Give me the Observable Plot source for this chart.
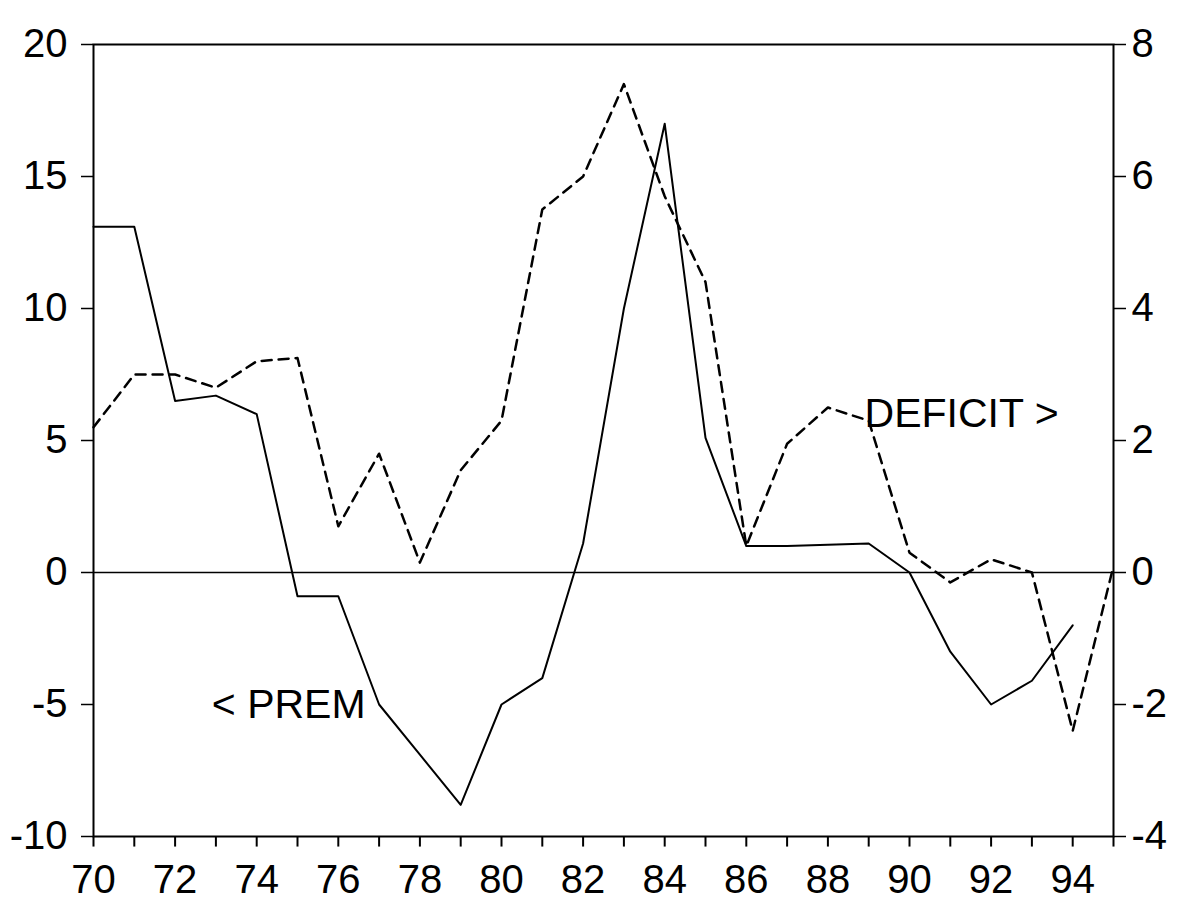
<!DOCTYPE html>
<html>
<head>
<meta charset="utf-8">
<script src="https://cdn.jsdelivr.net/npm/d3@7"></script>
<script src="https://cdn.jsdelivr.net/npm/@observablehq/plot@0.6"></script>
<style>
  html, body { margin: 0; padding: 0; background: #fff; }
  #chart { width: 1177px; height: 906px; }
</style>
</head>
<body>
<div id="chart"></div>
<script>
// Years (two-digit), 1970–1995
const years = [70,71,72,73,74,75,76,77,78,79,80,81,82,83,84,85,86,87,88,89,90,91,92,93,94,95];
// PREM (left axis), available 70–94
const premYears = [70,71,72,73,74,75,76,77,78,79,80,81,82,83,84,85,86,87,88,89,90,91,92,93,94];
const premValues = [13.1,13.1,6.5,6.7,6.0,-0.9,-0.9,-5.0,-6.9,-8.8,-5.0,-4.0,1.1,10.0,17.0,5.1,1.0,1.0,1.05,1.1,0.0,-3.0,-5.0,-4.1,-2.0];
// DEFICIT (right axis), 70–95
const deficitValues = [2.2,3.0,3.0,2.8,3.2,3.25,0.7,1.8,0.15,1.55,2.3,5.5,6.0,7.4,5.7,4.4,0.4,1.95,2.5,2.3,0.3,-0.15,0.2,0.0,-2.4,0.1];
// Axis ticks
const leftTicks = [-10,-5,0,5,10,15,20];
const rightTickLabels = [-4,-2,0,2,4,6,8];
const xLabelTicks = [70,72,74,76,78,80,82,84,86,88,90,92,94];
const ratio = 2.5; // left units per right unit

const premData = premYears.map((y, i) => ({year: y, value: premValues[i]}));
const deficitData = years.map((y, i) => ({year: y, value: deficitValues[i]}));

const chart = Plot.plot({
  width: 1177,
  height: 906,
  marginLeft: 93,
  marginRight: 64,
  marginTop: 44,
  marginBottom: 70,
  style: {fontSize: "40px", fontFamily: "'Liberation Sans', Arial, sans-serif", color: "black", background: "white"},
  x: {domain: [70, 95]},
  y: {domain: [-10, 20]},
  marks: [
    Plot.frame({stroke: "black", strokeWidth: 2}),
    Plot.ruleY([0], {stroke: "black", strokeWidth: 1.5}),
    Plot.line(premData, {x: "year", y: "value", stroke: "black", strokeWidth: 2}),
    Plot.line(deficitData, {x: "year", y: d => d.value * ratio, stroke: "black", strokeWidth: 2.5, strokeDasharray: "10,7"}),
    // yearly tick marks hanging below the bottom axis
    Plot.ruleX(years, {x: d => d, y1: -10, y2: -10.4, stroke: "black", strokeWidth: 2}),
    Plot.axisX({ticks: xLabelTicks, tickSize: 0, tickPadding: 28, tickFormat: d => String(d), label: null}),
    Plot.axisY({anchor: "left", ticks: leftTicks, tickSize: 12, tickPadding: 14, tickFormat: d => String(d), label: null, strokeWidth: 1.5}),
    Plot.axisY({anchor: "right", ticks: rightTickLabels.map(v => v * ratio), tickSize: 12, tickPadding: 6, tickFormat: d => String(Math.round(d / ratio)), label: null, strokeWidth: 1.5}),
    Plot.text(["< PREM"], {x: 72.9, y: -5.0, text: d => d, textAnchor: "start", fontSize: 41, fill: "black", lineAnchor: "middle"}),
    Plot.text(["DEFICIT >"], {x: 88.9, y: 6.0, text: d => d, textAnchor: "start", fontSize: 41, fill: "black", lineAnchor: "middle"})
  ]
});
document.getElementById("chart").appendChild(chart);
</script>
</body>
</html>
